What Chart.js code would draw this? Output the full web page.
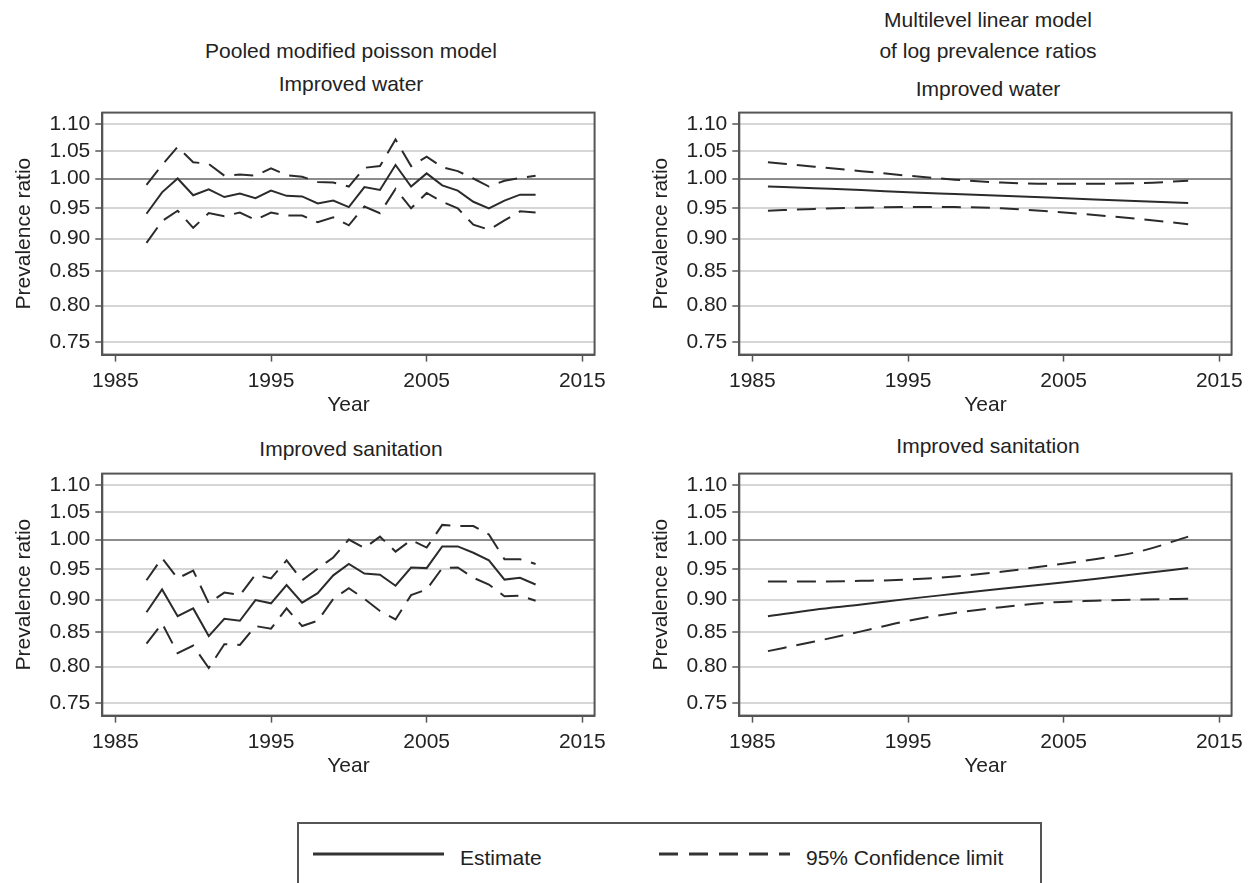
<!DOCTYPE html>
<html>
<head>
<meta charset="utf-8">
<script src="https://cdn.jsdelivr.net/npm/chart.js@4.4.0/dist/chart.umd.min.js"></script>
<style>
  body { margin: 0; background: #fff; width: 1251px; height: 883px; position: relative; overflow: hidden;
         font-family: "Liberation Sans", Arial, sans-serif; color: #222; }
  canvas { position: absolute; }
  .t { position: absolute; font-size: 21px; line-height: 1; white-space: nowrap; transform: translate(-50%, -50%); }
  #legend { position: absolute; left: 297px; top: 822px; width: 745px; height: 100px;
            border: 2px solid #555; box-sizing: border-box; }
  #legend svg { position: absolute; left: 0; top: 0; }
  #legend span { position: absolute; font-size: 21px; line-height: 1; top: 23px; white-space: nowrap; }
</style>
</head>
<body>
<div class="t" style="left:351px;top:50px">Pooled modified poisson model</div>
<div class="t" style="left:351px;top:83px">Improved water</div>
<div class="t" style="left:988px;top:19px">Multilevel linear model</div>
<div class="t" style="left:988px;top:50px">of log prevalence ratios</div>
<div class="t" style="left:988px;top:88px">Improved water</div>
<div class="t" style="left:351px;top:448px">Improved sanitation</div>
<div class="t" style="left:988px;top:445px">Improved sanitation</div>

<canvas id="c1" width="613" height="330" style="left:0px;top:95px"></canvas>
<canvas id="c2" width="613" height="330" style="left:637px;top:95px"></canvas>
<canvas id="c3" width="613" height="330" style="left:0px;top:456px"></canvas>
<canvas id="c4" width="613" height="330" style="left:637px;top:456px"></canvas>

<div id="legend">
  <svg width="745" height="100">
    <line x1="14" y1="30" x2="145" y2="30" stroke="#333" stroke-width="3"/>
    <line x1="360" y1="30" x2="491" y2="30" stroke="#333" stroke-width="3" stroke-dasharray="19 11"/>
  </svg>
  <span style="left:161px">Estimate</span>
  <span style="left:507px">95% Confidence limit</span>
</div>

<script>
/* global document, Chart */
// Tick values
const xTicks = [1985, 1995, 2005, 2015];
const yTicks = [0.75, 0.80, 0.85, 0.90, 0.95, 1.00, 1.05, 1.10];

// Pooled modified poisson model, one estimate per survey year
const poolYears = [1987, 1988, 1989, 1990, 1991, 1992, 1993, 1994, 1995, 1996, 1997, 1998, 1999,
  2000, 2001, 2002, 2003, 2004, 2005, 2006, 2007, 2008, 2009, 2010, 2011, 2012];
const waterPoolEst = [0.940, 0.976, 1.000, 0.971, 0.981, 0.968, 0.974, 0.966, 0.979, 0.970, 0.969, 0.957, 0.962,
  0.951, 0.985, 0.980, 1.024, 0.986, 1.009, 0.988, 0.979, 0.960, 0.949, 0.962, 0.972, 0.972];
const waterPoolHi = [0.989, 1.024, 1.057, 1.029, 1.026, 1.005, 1.007, 1.005, 1.018, 1.006, 1.003, 0.994, 0.993,
  0.986, 1.019, 1.022, 1.071, 1.022, 1.039, 1.020, 1.013, 1.000, 0.986, 0.996, 1.001, 1.005];
const waterPoolLo = [0.893, 0.928, 0.945, 0.917, 0.941, 0.936, 0.942, 0.930, 0.942, 0.937, 0.937, 0.926, 0.934,
  0.921, 0.952, 0.941, 0.982, 0.949, 0.975, 0.960, 0.949, 0.922, 0.914, 0.929, 0.944, 0.942];
const sanPoolEst = [0.880, 0.916, 0.874, 0.886, 0.844, 0.870, 0.867, 0.899, 0.894, 0.923, 0.895, 0.910, 0.939,
  0.958, 0.942, 0.940, 0.922, 0.952, 0.951, 0.988, 0.988, 0.977, 0.964, 0.932, 0.935, 0.924];
const sanPoolHi = [0.931, 0.968, 0.934, 0.947, 0.894, 0.911, 0.907, 0.940, 0.934, 0.964, 0.931, 0.950, 0.969,
  1.000, 0.985, 1.005, 0.979, 0.999, 0.986, 1.026, 1.024, 1.024, 1.009, 0.966, 0.966, 0.958];
const sanPoolLo = [0.833, 0.863, 0.819, 0.830, 0.798, 0.832, 0.831, 0.859, 0.855, 0.886, 0.859, 0.867, 0.901,
  0.918, 0.901, 0.882, 0.869, 0.907, 0.916, 0.951, 0.952, 0.935, 0.924, 0.905, 0.906, 0.898];

// Multilevel linear model, smooth trend read every three years
const mlYears = [1986, 1989, 1992, 1995, 1998, 2001, 2004, 2007, 2010, 2013];
const waterMlEst = [0.986, 0.983, 0.980, 0.976, 0.973, 0.970, 0.967, 0.964, 0.961, 0.958];
const waterMlHi = [1.029, 1.021, 1.013, 1.005, 0.998, 0.993, 0.991, 0.991, 0.992, 0.996];
const waterMlLo = [0.945, 0.948, 0.950, 0.951, 0.951, 0.949, 0.944, 0.938, 0.931, 0.923];
const sanMlEst = [0.874, 0.884, 0.892, 0.901, 0.909, 0.917, 0.925, 0.933, 0.942, 0.951];
const sanMlHi = [0.929, 0.929, 0.930, 0.932, 0.937, 0.945, 0.955, 0.966, 0.980, 1.005];
const sanMlLo = [0.822, 0.836, 0.851, 0.867, 0.879, 0.888, 0.895, 0.898, 0.900, 0.901];

// Colors
const ink = "#2b2b2b";
const frameGray = "#555555";
const gridGray = "#d6d6d6";
const refGray = "#8c8c8c";
const font = {family: "'Liberation Sans', Arial, sans-serif", size: 21};

// Box round the plot area (Stata style, all four sides)
const framePlugin = {
  id: "frame",
  afterDraw(chart) {
    const {ctx, chartArea: a} = chart;
    ctx.save();
    ctx.strokeStyle = frameGray;
    ctx.lineWidth = 2;
    ctx.strokeRect(a.left, a.top, a.right - a.left, a.bottom - a.top);
    ctx.restore();
  }
};

const toPoints = (years, values) => years.map((year, i) => ({x: year, y: values[i]}));

function line(years, values, dashed, smooth) {
  return {
    data: toPoints(years, values),
    borderColor: ink,
    borderWidth: 2,
    borderDash: dashed ? [19, 10] : [],
    pointRadius: 0,
    tension: smooth ? 0.4 : 0,
    cubicInterpolationMode: smooth ? "monotone" : "default",
    fill: false
  };
}

function panel(id, years, est, lo, hi, smooth) {
  new Chart(document.getElementById(id), {
    type: "line",
    data: {
      datasets: [
        line(years, hi, true, smooth),
        line(years, lo, true, smooth),
        line(years, est, false, smooth)
      ]
    },
    plugins: [framePlugin],
    options: {
      responsive: false,
      animation: false,
      devicePixelRatio: 1,
      layout: {padding: {top: 9.7, right: 14.1, bottom: 7.1, left: 0}},
      plugins: {legend: {display: false}, tooltip: {enabled: false}},
      scales: {
        x: {
          type: "linear",
          min: 1984.16,
          max: 2015.79,
          afterBuildTicks: scale => { scale.ticks = xTicks.map(value => ({value})); },
          afterFit: scale => { scale.height = 63.3; },
          grid: {drawOnChartArea: false, drawTicks: true, tickLength: 7, tickColor: frameGray, tickWidth: 1.5},
          border: {display: true, color: frameGray, width: 2},
          ticks: {color: "#222", font, padding: 7, autoSkip: false, maxRotation: 0,
            callback: value => String(value)},
          title: {display: true, text: "Year", color: "#222", font, padding: {top: 0, bottom: 0}}
        },
        y: {
          type: "logarithmic",
          min: 0.734,
          max: 1.1227,
          afterBuildTicks: scale => { scale.ticks = yTicks.map(value => ({value})); },
          afterFit: scale => { scale.width = 102.3; },
          grid: {
            drawTicks: true,
            tickLength: 7,
            tickColor: frameGray,
            tickWidth: 1.5,
            lineWidth: 2,
            color: c => (c.tick && c.tick.value === 1 ? refGray : gridGray)
          },
          border: {display: true, color: frameGray, width: 2},
          ticks: {color: "#222", font, padding: 5, autoSkip: false,
            callback: value => Number(value).toFixed(2)},
          title: {display: true, text: "Prevalence ratio", color: "#222", font, padding: {top: 11.4, bottom: 0}}
        }
      }
    }
  });
}

panel("c1", poolYears, waterPoolEst, waterPoolLo, waterPoolHi, false);
panel("c2", mlYears, waterMlEst, waterMlLo, waterMlHi, true);
panel("c3", poolYears, sanPoolEst, sanPoolLo, sanPoolHi, false);
panel("c4", mlYears, sanMlEst, sanMlLo, sanMlHi, true);
</script>
</body>
</html>
